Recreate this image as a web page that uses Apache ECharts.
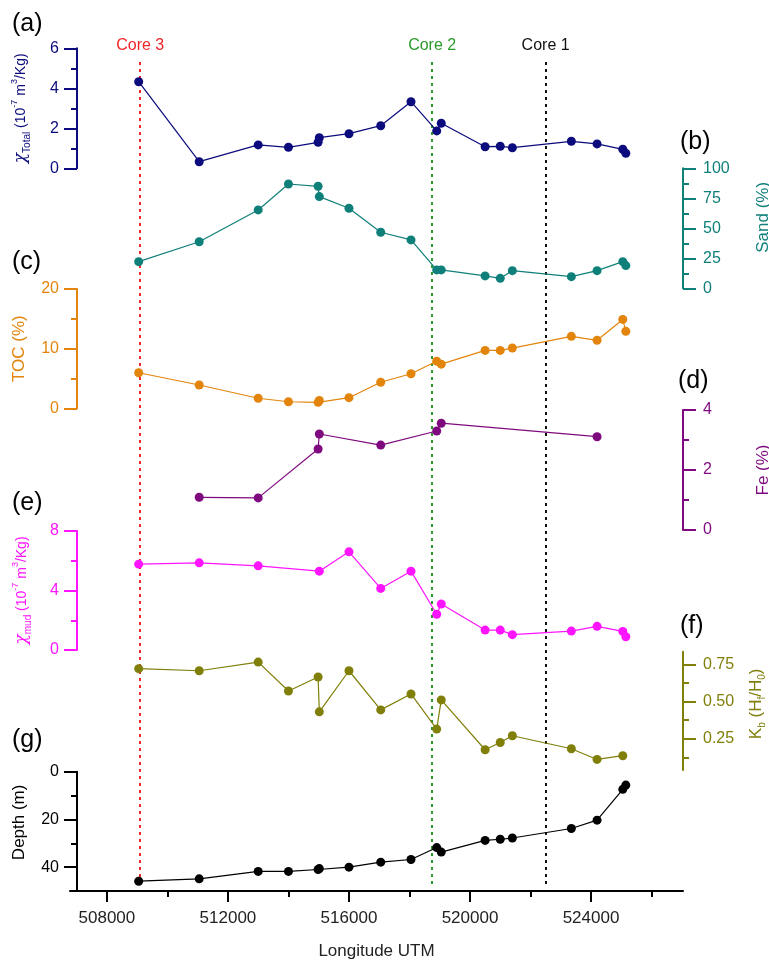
<!DOCTYPE html>
<html><head><meta charset="utf-8">
<script src="https://cdn.jsdelivr.net/npm/echarts@6/dist/echarts.min.js"></script>
<style>html,body{margin:0;padding:0;background:#fff}#c{width:769px;height:962px}</style>
</head><body><div id="c"></div>
<script>
// ---------------- DATA ----------------
const longitude = [509050,511050,513000,514000,514980,515020,516000,517050,518050,518900,519050,520500,521000,521400,523350,524200,525050,525150];
const chiTotal = [4.33,0.33,1.17,1.05,1.30,1.53,1.73,2.13,3.33,1.87,2.25,1.08,1.10,1.03,1.35,1.22,0.95,0.75];
const sand     = [22.2,38.8,65.3,86.9,85.0,76.4,66.7,46.7,40.3,15.3,15.3,10.3,8.3,14.7,9.7,14.7,22.2,18.9];
const toc      = [5.96,3.9,1.68,1.1,1.0,1.3,1.78,4.36,5.8,7.9,7.4,9.7,9.7,10.1,12.06,11.4,14.9,12.9];
const fe       = [null,1.09,1.07,null,2.7,3.2,null,2.83,null,3.3,3.56,null,null,null,null,3.11,null,null];
const chiMud   = [5.77,5.86,5.66,null,null,5.3,6.6,4.14,5.3,2.4,3.09,1.34,1.34,1.03,1.27,1.59,1.25,0.89];
const kb       = [0.721,0.707,0.765,0.571,0.665,0.431,0.707,0.444,0.551,0.315,0.511,0.176,0.225,0.27,0.183,0.111,0.136,null];
const depth    = [45.9,44.9,41.8,41.8,41.0,40.6,40.0,37.9,36.8,31.8,33.7,28.8,28.3,27.8,23.8,20.3,7.4,5.6];

const coreNames = ['Core 3','Core 2','Core 1'];
const coreLongitude = [509100,518750,522500];

const xTicks = [508000,512000,516000,520000,524000];
const xMinorTicks = [510000,514000,518000,522000,526000];
const chiTotalTicks = [0,2,4,6],      chiTotalMinor = [1,3,5];
const sandTicks = [0,25,50,75,100],   sandMinor = [12.5,37.5,62.5,87.5];
const tocTicks = [0,10,20],           tocMinor = [5,15];
const feTicks = [0,2,4],              feMinor = [1,3];
const chiMudTicks = [0,4,8],          chiMudMinor = [2,6];
const kbTicks = [0.25,0.5,0.75],      kbMinor = [0.125,0.375,0.625];
const depthTicks = [0,20,40],         depthMinor = [10,30];

// ---------------- STYLE / LAYOUT ----------------
const FONT = 'Liberation Sans, Arial, sans-serif';
const X_MIN = 506780, X_MAX = 527040;
const GL = 70, GR = 86;
const rich = {
  c: {fontSize: 17, fontStyle:'italic', fontFamily: 'DejaVu Serif, serif'},
  m: {fontSize: 14, fontFamily: FONT},
  sb: {fontSize: 10, verticalAlign: 'bottom', fontFamily: FONT},
  sp: {fontSize: 9, verticalAlign: 'top', fontFamily: FONT}
};
const panels = [
  {vals: chiTotal, ticks: chiTotalTicks, minor: chiTotalMinor, min:0, max:6, top:48.3, bottom:168.3, pos:'left', color:'#0b0b7d', nameGap:45,
   name:'{c|χ}{sb|Total}{m| (10}{sp|-7}{m| m}{sp|3}{m|/Kg)}', letter:'(a)', lx:12, ly:24},
  {vals: sand, ticks: sandTicks, minor: sandMinor, min:0, max:100, top:168.3, bottom:288.3, pos:'right', color:'#0f7f7a', nameGap:69,
   name:'Sand (%)', pad:[0,0,0,22], letter:'(b)', lx:680, ly:142},
  {vals: toc, ticks: tocTicks, minor: tocMinor, min:0, max:20, top:289, bottom:408.3, pos:'left', color:'#e3850c', nameGap:44,
   name:'TOC (%)', letter:'(c)', lx:12, ly:262},
  {vals: fe, ticks: feTicks, minor: feMinor, min:0, max:4, top:410, bottom:530, pos:'right', color:'#7f0a7f', nameGap:69,
   name:'Fe (%)', letter:'(d)', lx:678, ly:381},
  {vals: chiMud, ticks: chiMudTicks, minor: chiMudMinor, min:0, max:8, top:531, bottom:650, pos:'left', color:'#ff14ff', nameGap:44,
   name:'{c|χ}{sb|mud}{m| (10}{sp|-7}{m| m}{sp|3}{m|/Kg)}', letter:'(e)', lx:12, ly:503},
  {vals: kb, ticks: kbTicks, minor: kbMinor, min:0.04, max:0.835, top:651.7, bottom:770, pos:'right', color:'#7f7f0a', nameGap:62,
   name:'K{sb|b} (H{sb|f}/H{sb|0})', pad:[0,0,0,14], letter:'(f)', lx:680, ly:626, fmt: v => v.toFixed(2)},
  {vals: depth, ticks: depthTicks, minor: depthMinor, min:0, max:50, top:771.7, bottom:891, pos:'left', color:'#000000', nameGap:44,
   name:'Depth (m)', pad:[0,0,0,18], letter:'(g)', lx:12, ly:740, inverse:true}
];
const coreColors = ['#f0262a','#2a9a2a','#111111'];

// ---------------- BUILD ----------------
const grid = [], xAxis = [], yAxis = [], series = [], graphic = [];
panels.forEach((p, i) => {
  grid.push({left: GL, right: GR, top: p.top, height: p.bottom - p.top, outerBoundsMode:'none', containLabel:false});
  const last = i === panels.length - 1;
  xAxis.push({
    type:'value', gridIndex:i, min:X_MIN, max:X_MAX, show: last, position:'bottom',
    axisLine:{show:true, onZero:false, lineStyle:{color:'#000', width:2}},
    axisTick:{show:true, length:11, lineStyle:{color:'#000', width:2}, customValues: xTicks},
    axisLabel:{customValues: xTicks, formatter: v => String(v), color:'#222', fontSize:17, fontFamily:FONT, margin:19},
    splitLine:{show:false},
    name: last ? 'Longitude UTM' : '', nameLocation:'middle', nameGap:52,
    nameTextStyle:{color:'#222', fontSize:17, fontFamily:FONT}
  });
  const base = {
    type:'value', gridIndex:i, position:p.pos, min:p.min, max:p.max, inverse:!!p.inverse,
    offset: p.pos === 'left' ? -7 : 0, splitLine:{show:false}
  };
  yAxis.push(Object.assign({}, base, {
    axisLine:{show:true, onZero:false, lineStyle:{color:p.color, width:2}},
    axisTick:{show:true, length:13, lineStyle:{color:p.color, width:2}, customValues:p.ticks},
    axisLabel:{customValues:p.ticks, color:p.color, fontSize:16, fontFamily:FONT, margin: p.pos==='left'?18:20,
               formatter: p.fmt || (v => String(v))},
    name:p.name, nameLocation:'middle', nameGap:p.nameGap, nameRotate:90,
    nameTextStyle:{color:p.color, fontSize:17, fontFamily:FONT, lineHeight:22, rich: rich, padding: p.pad || 0}
  }));
  yAxis.push(Object.assign({}, base, {
    axisLine:{show:false, onZero:false},
    axisTick:{show:true, length:6, lineStyle:{color:p.color, width:2}, customValues:p.minor},
    axisLabel:{show:false}
  }));
  const pts = [];
  longitude.forEach((x, k) => { if (p.vals[k] !== null) pts.push([x, p.vals[k]]); });
  series.push({
    type:'line', xAxisIndex:i, yAxisIndex:2*i, data:pts, clip:false,
    symbol:'circle', symbolSize:9, itemStyle:{color:p.color},
    lineStyle:{color:p.color, width:1.2}, z:5
  });
  graphic.push({type:'text', x:p.lx, y:p.ly, style:{text:p.letter, font:'25px ' + FONT, fill:'#000', verticalAlign:'middle', align:'left'}});
});
// minor x ticks on the bottom grid
xAxis.push({
  type:'value', gridIndex:6, min:X_MIN, max:X_MAX, position:'bottom',
  axisLine:{show:false, onZero:false}, axisTick:{show:true, length:6, lineStyle:{color:'#000', width:2}, customValues:xMinorTicks},
  axisLabel:{show:false}, splitLine:{show:false}
});
// core reference lines grid
grid.push({left: GL, right: GR, top: 60, bottom: 78, outerBoundsMode:'none', containLabel:false});
xAxis.push({type:'value', gridIndex:7, min:X_MIN, max:X_MAX, show:false});
yAxis.push({type:'value', gridIndex:7, min:0, max:1, show:false});
series.push({
  type:'line', xAxisIndex:8, yAxisIndex:14, data:[], silent:true,
  markLine:{
    symbol:['none','none'], silent:true, animation:false,
    data: coreLongitude.map((x, k) => ({
      xAxis: x,
      lineStyle:{color: coreColors[k], type:[3,4], width:2},
      label:{show:true, position:'end', formatter: coreNames[k], color: coreColors[k], fontSize:16, fontFamily:FONT, distance:6}
    }))
  }
});

const chart = echarts.init(document.getElementById('c'));
chart.setOption({animation:false, backgroundColor:'#fff', grid, xAxis, yAxis, series, graphic});
</script></body></html>
